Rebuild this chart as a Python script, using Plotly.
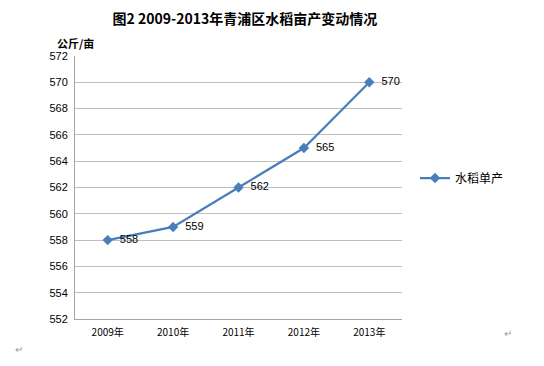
import plotly.graph_objects as go

years = ["2009年", "2010年", "2011年", "2012年", "2013年"]
yields = [558, 559, 562, 565, 570]
y_ticks = list(range(552, 573, 2))

font_fam = "Liberation Sans, Arial, Noto Sans CJK SC, sans-serif"
cjk = "Noto Sans CJK SC, sans-serif"

# page body has an 8px margin, so figure is sized to the remaining window
W, H = 536, 358
L, R, T, B = 67, 142, 48, 47

fig = go.Figure()
fig.add_trace(go.Scatter(
    x=years, y=yields, mode="lines+markers+text", name="水稻单产",
    line=dict(color="#4A7EBB", width=2.2),
    marker=dict(symbol="diamond", size=8, color="#4A7EBB"),
    text=["  " + str(v) for v in yields], textposition="middle right",
    textfont=dict(size=11, color="#000000", family=font_fam),
    cliponaxis=False,
))

fig.update_layout(
    width=W, height=H,
    margin=dict(l=L, r=R, t=T, b=B, autoexpand=False),
    paper_bgcolor="white", plot_bgcolor="white",
    font=dict(family=font_fam, size=11, color="#000000"),
    showlegend=True,
    legend=dict(x=0.04, y=0.536, xanchor="left", yanchor="middle",
                font=dict(size=12, family=cjk),
                bgcolor="rgba(0,0,0,0)", itemwidth=30),
    title=dict(text="<b>图2 2009-2013年青浦区水稻亩产变动情况</b>",
               x=0.442, xref="container", xanchor="center", y=0.968, yanchor="middle",
               font=dict(size=14, family=cjk, color="#000000")),
    xaxis=dict(type="category", range=[-0.5, 4.5], showgrid=False,
               showline=True, linecolor="#A6A6A6", linewidth=1,
               ticks="outside", ticklen=4, tickcolor="rgba(0,0,0,0)",
               automargin=False,
               tickfont=dict(size=10, family=cjk)),
    yaxis=dict(range=[552, 572], tickvals=y_ticks, showgrid=True,
               gridcolor="#BFBFBF", gridwidth=1, zeroline=False,
               showline=True, linecolor="#A6A6A6", linewidth=1,
               ticks="", ticklabelstandoff=4,
               automargin=False, tickfont=dict(size=11)),
)
fig.update_layout(legend_x=(407 - (W - R)) / (W - L - R) + 1)
fig.add_annotation(text="<b>公斤/亩</b>", x=0, xref="paper", xanchor="center",
                   y=1.049, yref="paper", yanchor="middle", showarrow=False,
                   font=dict(size=11, family=cjk))
fig.add_annotation(text="↵", x=-0.189, xref="paper", y=-0.145, yref="paper",
                   showarrow=False, font=dict(size=10, color="#999999"))
fig.add_annotation(text="↵", x=1.342, xref="paper", y=-0.085, yref="paper",
                   showarrow=False, font=dict(size=10, color="#999999"))

fig.write_html("out.html")
